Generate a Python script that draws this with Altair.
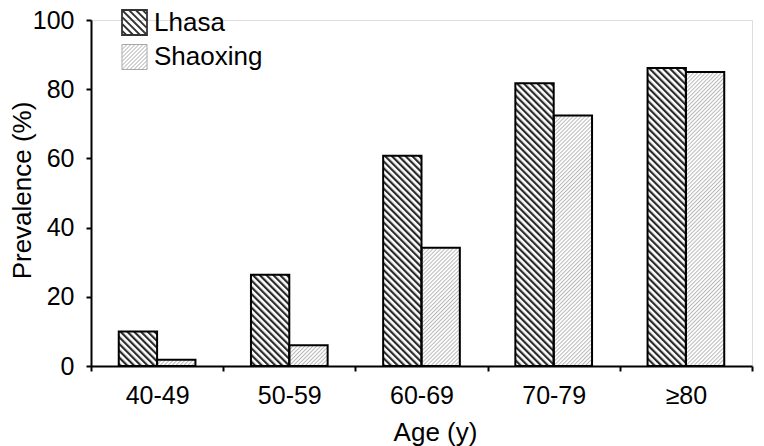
import base64
import altair as alt
import pandas as pd

# ---- data ----
ages = ["40-49", "50-59", "60-69", "70-79", "≥80"]
cities = ["Lhasa", "Shaoxing"]
lhasa = [10.0, 26.4, 60.8, 81.7, 86.1]
shaoxing = [1.8, 6.0, 34.2, 72.4, 85.0]

rows = []
for a, v in zip(ages, lhasa):
    rows.append({"age": a, "city": "Lhasa", "value": v})
for a, v in zip(ages, shaoxing):
    rows.append({"age": a, "city": "Shaoxing", "value": v})
df = pd.DataFrame(rows)

FONT = "Liberation Sans"


def hatch_url(angle, period, lw, color):
    svg = (
        "<svg xmlns='http://www.w3.org/2000/svg' width='100%' height='100%'>"
        "<defs><pattern id='p' patternUnits='userSpaceOnUse' "
        f"width='{period}' height='{period}' patternTransform='rotate({angle})'>"
        f"<rect x='0' y='0' width='{lw}' height='{period}' fill='{color}'/>"
        "</pattern></defs>"
        "<rect width='100%' height='100%' fill='white'/>"
        "<rect width='100%' height='100%' fill='url(#p)'/></svg>"
    )
    return "data:image/svg+xml;base64," + base64.b64encode(svg.encode()).decode()


URL_LHASA = hatch_url(-45, 4.8, 2.2, "#2a2a2a")
URL_SHAOXING = hatch_url(45, 2.8, 1.0, "#b8b8b8")


def legend_path(direction, step):
    parts = ["M-1,-1L1,-1L1,1L-1,1Z"]
    cs = []
    c = 0.0
    while c < 2:
        cs.append(c)
        if c > 0:
            cs.append(-c)
        c += step
    for c in sorted(cs):
        if direction == "back":
            x0, x1 = max(-1, -1 - c), min(1, 1 - c)
            parts.append(f"M{x0:.3f},{x0 + c:.3f}L{x1:.3f},{x1 + c:.3f}")
        else:
            x0, x1 = max(-1, c - 1), min(1, c + 1)
            parts.append(f"M{x0:.3f},{c - x0:.3f}L{x1:.3f},{c - x1:.3f}")
    return "".join(parts)


PATH_LHASA = legend_path("back", 0.55)
PATH_SHAOXING = legend_path("fwd", 0.32)

x_enc = alt.X(
    "age:N",
    sort=ages,
    scale=alt.Scale(paddingInner=0, paddingOuter=0),
    axis=alt.Axis(
        title="Age (y)",
        labelAngle=0,
        tickBand="extent",
        tickSize=5,
        tickWidth=2,
        tickColor="black",
        domainColor="black",
        domainWidth=2,
        labelFontSize=25,
        labelPadding=12,
        labelColor="black",
        labelFont=FONT,
        titleFont=FONT,
        titleFontSize=26,
        titleFontWeight="normal",
        titleColor="black",
        titleX=344,
        titleY=53,
        titleBaseline="top",
        titleAlign="center",
    ),
)
xo_enc = alt.XOffset(
    "city:N", sort=cities, scale=alt.Scale(paddingInner=0, paddingOuter=0.724)
)
y_enc = alt.Y(
    "value:Q",
    scale=alt.Scale(domain=[0, 100]),
    axis=alt.Axis(
        title="Prevalence (%)",
        values=[0, 20, 40, 60, 80, 100],
        grid=False,
        tickSize=5,
        tickWidth=2,
        tickColor="black",
        domainColor="black",
        domainWidth=2,
        labelFontSize=25,
        labelPadding=12,
        labelColor="black",
        labelFont=FONT,
        titleFont=FONT,
        titleFontSize=26,
        titleFontWeight="normal",
        titleColor="black",
        titleAngle=270,
        titleX=-56,
        titleY=170,
        titleBaseline="bottom",
        titleAlign="center",
    ),
)

base = alt.Chart(df)

images = base.mark_image(aspect=False).encode(
    x=x_enc,
    xOffset=xo_enc,
    y=y_enc,
    y2=alt.datum(0),
    url=alt.condition(
        alt.datum.city == "Lhasa", alt.value(URL_LHASA), alt.value(URL_SHAOXING)
    ),
)

outlines = base.mark_bar(
    filled=False, stroke="black", strokeWidth=2
).encode(
    x=x_enc,
    xOffset=xo_enc,
    y=y_enc,
)

leg = alt.Legend(
    title=None,
    orient="none",
    legendX=30,
    legendY=-11,
    padding=0,
    symbolSize=625,
    symbolOpacity=1,
    labelFontSize=26,
    labelFont=FONT,
    labelColor="black",
    labelOffset=6,
    rowPadding=3,
)

legend_layer = base.mark_point(filled=False, opacity=0).encode(
    x=x_enc,
    xOffset=xo_enc,
    y=y_enc,
    shape=alt.Shape(
        "city:N", sort=cities,
        scale=alt.Scale(domain=cities, range=[PATH_LHASA, PATH_SHAOXING]),
        legend=leg,
    ),
    stroke=alt.Stroke(
        "city:N", sort=cities,
        scale=alt.Scale(domain=cities, range=["#333333", "#a8a8a8"]),
        legend=leg,
    ),
    strokeWidth=alt.StrokeWidth(
        "city:N", sort=cities,
        scale=alt.Scale(domain=cities, range=[1.8, 1.0]),
        legend=leg,
    ),
)

chart = (
    alt.layer(images, outlines, legend_layer)
    .properties(
        width=661,
        height=346,
        autosize=alt.AutoSizeParams(type="none"),
        padding={"left": 83, "top": 12, "right": 4, "bottom": 80},
    )
    .configure_view(stroke=None)
    .configure(font=FONT)
)

chart.save("out.html", embed_options={"renderer": "svg", "actions": False})
